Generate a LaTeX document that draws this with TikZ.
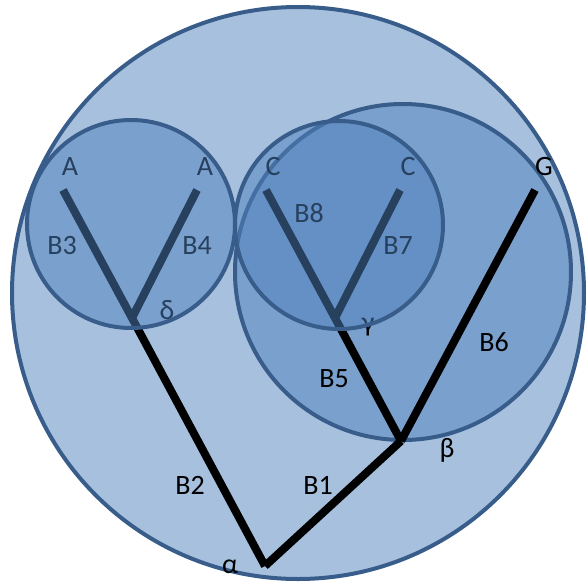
\documentclass[tikz,border=0pt]{standalone}
\usepackage{fontspec}
\setmainfont{Carlito}
\definecolor{officeblue}{HTML}{4F81BD}
\definecolor{officeline}{HTML}{385D8A}
\begin{document}
\begin{tikzpicture}[x=1pt,y=-1pt,
  setcircle/.style={circle,draw=officeline,line width=4pt,fill=officeblue,fill opacity=0.5,draw opacity=1,inner sep=0pt},
  branch/.style={line width=8pt,black},
  lbl/.style={font=\fontsize{28}{30}\selectfont,text=black,inner sep=0pt}]
\useasboundingbox (0,0) rectangle (587,587);
% outer and beta circles
\node[setcircle,minimum size=572pt] (outer) at (298,293) {};
\node[setcircle,minimum size=336pt] (betaset) at (403,272) {};
% tree vertices
\coordinate (a1) at (63,190);
\coordinate (a2) at (197,190);
\coordinate (c1) at (266,190);
\coordinate (c2) at (400,190);
\coordinate (g) at (535,190);
\coordinate (delta) at (132,318);
\coordinate (gamma) at (335,318);
\coordinate (beta) at (401,441);
\coordinate (alpha) at (265,566);
% branches
\draw[branch] (a1) -- (delta);
\draw[branch] (a2) -- (delta);
\draw[branch] (c1) -- (gamma);
\draw[branch] (c2) -- (gamma);
\draw[branch] (gamma) -- (beta);
\draw[branch] (g) -- (beta);
\draw[branch] (delta) -- (alpha);
\draw[branch] (beta) -- (alpha);
% labels
\node[lbl] (la1) at (70,167) {A};
\node[lbl] (la2) at (205,167) {A};
\node[lbl] (lc1) at (273,167) {C};
\node[lbl] (lc2) at (408,167) {C};
\node[lbl] (lg) at (544,167) {G};
\node[lbl] (lb3) at (62,246) {B3};
\node[lbl] (lb4) at (197,246) {B4};
\node[lbl] (lb8) at (309,213) {B8};
\node[lbl] (lb7) at (398,246) {B7};
\node[lbl] (ldelta) at (167,310) {δ};
\node[lbl] (lgamma) at (368,327) {γ};
\node[lbl] (lb6) at (494,342) {B6};
\node[lbl] (lb5) at (334,379) {B5};
\node[lbl] (lbeta) at (447,450) {β};
\node[lbl] (lb1) at (318,485) {B1};
\node[lbl] (lb2) at (190,485) {B2};
\node[lbl] (lalpha) at (230,567) {α};
% delta and gamma circles on top
\node[setcircle,minimum size=208pt] (deltaset) at (131,224) {};
\node[setcircle,minimum size=208pt] (gammaset) at (339,225) {};
\end{tikzpicture}
\end{document}
